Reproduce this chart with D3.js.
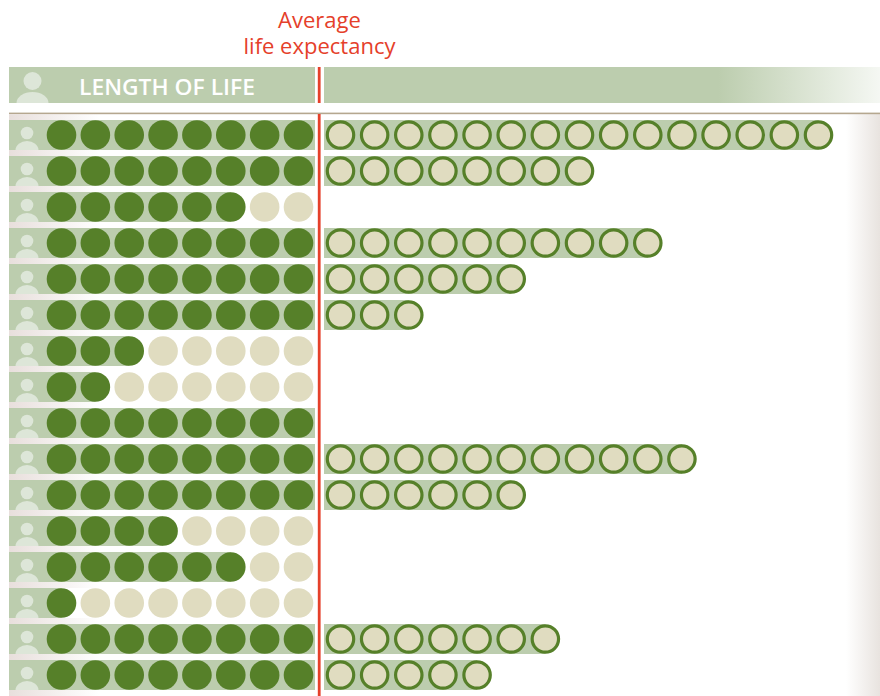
<!doctype html>
<html lang="en">
<head>
<meta charset="utf-8">
<title>Length of life</title>
<style>
	html, body { margin: 0; padding: 0; background: #fff; }
	svg { display: block; }
	text { font-family: "Open Sans", "Noto Sans", sans-serif; }
</style>
</head>
<body>
<div id="viz"></div>
<script src="https://cdn.jsdelivr.net/npm/d3@7/dist/d3.min.js"></script>
<script>
// DATA
var rows = d3.range(1, 17);
var filledDots = [8, 8, 6, 8, 8, 8, 3, 2, 8, 8, 8, 4, 6, 1, 8, 8];
var extraDots = [15, 8, 0, 10, 6, 3, 0, 0, 0, 11, 6, 0, 0, 0, 7, 5];
var dotSlots = d3.range(8);
var titleLines = ["Average", "life expectancy"];
var headerLabel = "LENGTH OF LIFE";

// Dimensions
var w = 880,
	h = 696;

// COLORS
var darkGreen = "#568029",
	barGreen = "#bccdae",
	cream = "#e0dcc0",
	red = "#e5402a",
	personColor = "#dde6d8";

// SCALES
var y = d3.scalePoint().domain(rows).range([135, 675]);
var xLeft = d3.scaleLinear().domain([0, 7]).range([61.5, 298.5]);
var xRight = d3.scaleLinear().domain([0, 14]).range([340.5, 818.5]);
var r = 14.8;
var barH = 30;

// DRAWING AREA
var svg = d3.select("#viz")
	.append("svg")
	.attr("width", w)
	.attr("height", h)
	.attr("viewBox", "0 0 " + w + " " + h);

// GRADIENTS
var defs = svg.append("defs");

function gradient(id, stops) {
	var g = defs.append("linearGradient").attr("id", id);
	stops.forEach(function(s) {
		g.append("stop")
			.attr("offset", s[0])
			.attr("stop-color", s[1])
			.attr("stop-opacity", s[2]);
	});
}
gradient("headerFade", [[0, barGreen, 1], [0.71, barGreen, 1], [1, barGreen, 0.15]]);
gradient("edgeFade", [[0, "#e8e3df", 0], [1, "#e8e3df", 1]]);
gradient("stripFade", [[0, "#e8dfdc", 1], [1, "#e8dfdc", 0]]);

defs.append("clipPath").attr("id", "headerClip")
	.append("rect").attr("x", 9).attr("y", 67).attr("width", 306).attr("height", 36);

// right edge shading and rule
svg.append("rect")
	.attr("x", 846).attr("y", 114)
	.attr("width", 34).attr("height", h - 114)
	.attr("fill", "url(#edgeFade)");

svg.append("rect")
	.attr("x", 9).attr("y", 112.6)
	.attr("width", w - 9).attr("height", 1.6)
	.attr("fill", "#b5a78f");

// strip above the first row
svg.append("rect")
	.attr("x", 9).attr("y", 114.2)
	.attr("width", 90).attr("height", 5.8)
	.attr("fill", "url(#stripFade)");

// HEADER
svg.append("rect")
	.attr("x", 9).attr("y", 67)
	.attr("width", 306).attr("height", 36)
	.attr("fill", barGreen);

svg.append("rect")
	.attr("x", 324).attr("y", 67)
	.attr("width", w - 324).attr("height", 36)
	.attr("fill", "url(#headerFade)");

var headerPerson = svg.append("g")
	.attr("clip-path", "url(#headerClip)")
	.attr("fill", personColor);
headerPerson.append("circle").attr("cx", 32.5).attr("cy", 81).attr("r", 9);
headerPerson.append("ellipse").attr("cx", 32.5).attr("cy", 103).attr("rx", 16).attr("ry", 11);

svg.append("text")
	.attr("x", 79).attr("y", 95)
	.attr("fill", "#fff")
	.attr("font-size", 22)
	.attr("font-weight", 600)
	.attr("textLength", 176)
	.attr("lengthAdjust", "spacingAndGlyphs")
	.text(headerLabel);

// TITLE, one text element with a tspan per line
svg.append("text")
	.attr("class", "title")
	.attr("text-anchor", "middle")
	.attr("fill", red)
	.attr("font-size", 22)
	.selectAll("tspan")
	.data(titleLines)
	.enter()
	.append("tspan")
	.attr("x", 319.5)
	.attr("y", function(d, i) { return 28 + i * 25.5; })
	.text(function(d) { return d; });

// ROWS
var row = svg.selectAll("g.row")
	.data(rows)
	.enter()
	.append("g")
	.attr("class", "row")
	.attr("transform", function(d) { return "translate(0," + y(d) + ")"; });

// faded strip under each bar
row.append("rect")
	.attr("x", 9).attr("y", barH / 2)
	.attr("width", 90).attr("height", 6)
	.attr("fill", "url(#stripFade)");

// left bar runs to the last filled dot
row.append("rect")
	.attr("x", 9).attr("y", -barH / 2)
	.attr("width", function(d, i) {
		return filledDots[i] === 8 ? 306 : xLeft(filledDots[i] - 1) - 9;
	})
	.attr("height", barH)
	.attr("fill", barGreen);

// person icon
defs.append("clipPath")
	.attr("id", "rowClip")
	.append("rect")
	.attr("x", 9).attr("y", -barH / 2)
	.attr("width", 40).attr("height", barH);

var person = row.append("g")
	.attr("clip-path", "url(#rowClip)")
	.attr("fill", personColor);
person.append("circle").attr("cx", 27).attr("cy", -2).attr("r", 6.3);
person.append("ellipse").attr("cx", 27).attr("cy", 15).attr("rx", 11.5).attr("ry", 9);

// eight dots on the left of the average line
row.selectAll("circle.dot")
	.data(function(d, i) {
		return dotSlots.map(function(s) { return { slot: s, filled: s < filledDots[i] }; });
	})
	.enter()
	.append("circle")
	.attr("class", "dot")
	.attr("cx", function(d) { return xLeft(d.slot); })
	.attr("cy", 0)
	.attr("r", r)
	.attr("fill", function(d) { return d.filled ? darkGreen : cream; });

// right bar, only where there are extra dots
row.filter(function(d, i) { return extraDots[i] > 0; })
	.append("rect")
	.attr("x", 324).attr("y", -barH / 2)
	.attr("width", function(d) { return xRight(extraDots[d - 1] - 1) - 324; })
	.attr("height", barH)
	.attr("fill", barGreen);

row.selectAll("circle.extra")
	.data(function(d, i) { return d3.range(extraDots[i]); })
	.enter()
	.append("circle")
	.attr("class", "extra")
	.attr("cx", function(d) { return xRight(d); })
	.attr("cy", 0)
	.attr("r", 13.2)
	.attr("fill", cream)
	.attr("stroke", darkGreen)
	.attr("stroke-width", 3.2);

// AVERAGE LINE
svg.append("rect")
	.attr("x", 317.8).attr("y", 67)
	.attr("width", 2.8).attr("height", 36)
	.attr("fill", red);

svg.append("rect")
	.attr("x", 317.8).attr("y", 114)
	.attr("width", 2.8).attr("height", h - 114)
	.attr("fill", red);
</script>
</body>
</html>
